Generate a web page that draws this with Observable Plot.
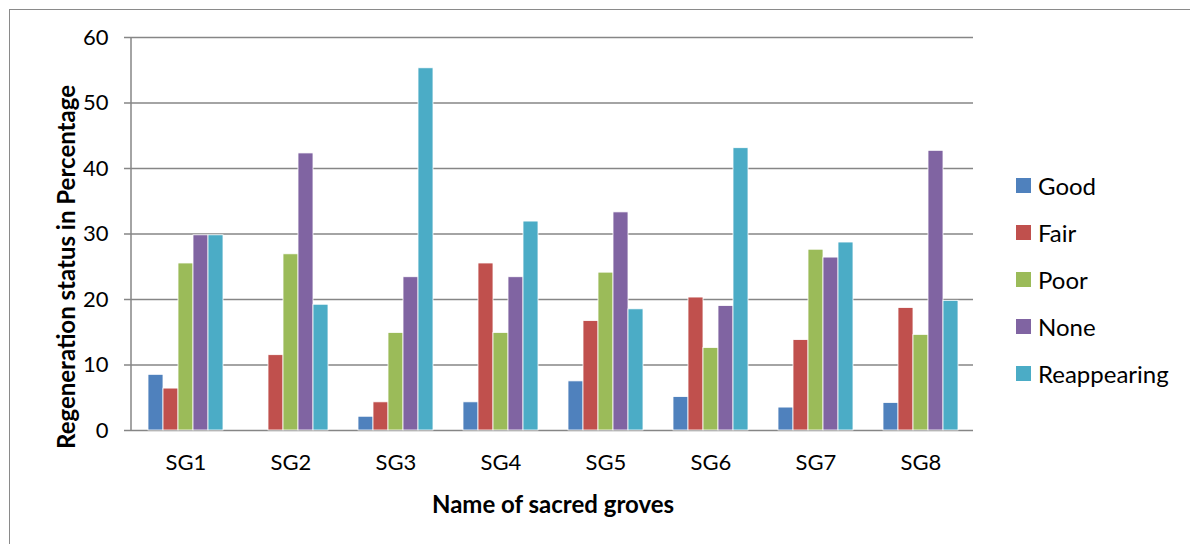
<!DOCTYPE html>
<html>
<head>
<meta charset="utf-8">
<script src="https://cdn.jsdelivr.net/npm/d3@7"></script>
<script src="https://cdn.jsdelivr.net/npm/@observablehq/plot@0.6"></script>
<style>
  html, body { margin: 0; padding: 0; background: #fff; }
  #wrap { position: relative; width: 1190px; height: 544px; overflow: hidden; font-family: Lato, "Open Sans", sans-serif; }
  #border { position: absolute; left: 9px; top: 9px; right: -5px; bottom: -5px; border-top: 1.5px solid #8a8a8a; border-left: 1.5px solid #8a8a8a; pointer-events: none; }
  #chart { position: absolute; left: 0; top: 0; }
  .ytitle { position: absolute; left: 65px; top: 267px; transform: translate(-50%, -50%) rotate(-90deg); white-space: nowrap; font-weight: bold; font-size: 24px; color: #000; }
  .xtitle { position: absolute; left: 553px; top: 503px; transform: translate(-50%, -50%); white-space: nowrap; font-weight: bold; font-size: 24px; color: #000; }
  #legend { position: absolute; left: 1016px; top: 162px; }
  .row { display: flex; align-items: center; height: 47px; font-size: 24px; color: #000; }
  .sw { width: 15px; height: 15px; margin-right: 7px; }
</style>
</head>
<body>
<div id="wrap">
  <div id="chart"></div>
  <div class="ytitle">Regeneration status in Percentage</div>
  <div class="xtitle">Name of sacred groves</div>
  <div id="legend"></div>
  <div id="border"></div>
</div>
<script>
const groves = ["SG1", "SG2", "SG3", "SG4", "SG5", "SG6", "SG7", "SG8"];
const categories = ["Good", "Fair", "Poor", "None", "Reappearing"];
const colors = ["#4F81BD", "#C0504D", "#9BBB59", "#8064A2", "#4BACC6"];
const good        = [8.5, 0,    2.1,  4.3,  7.5,  5.1,  3.5,  4.2];
const fair        = [6.4, 11.5, 4.3,  25.5, 16.7, 20.3, 13.8, 18.7];
const poor        = [25.5, 26.9, 14.9, 14.9, 24.1, 12.6, 27.6, 14.6];
const none        = [29.8, 42.3, 23.4, 23.4, 33.3, 19.0, 26.4, 42.7];
const reappearing = [29.8, 19.2, 55.3, 31.9, 18.5, 43.1, 28.7, 19.8];
const yTicks = [0, 10, 20, 30, 40, 50, 60];

const series = [good, fair, poor, none, reappearing];
const data = [];
groves.forEach((g, i) => {
  categories.forEach((c, j) => data.push({grove: g, category: c, value: series[j][i]}));
});

const W = 1190, H = 544;
const mL = 131, mR = 215, mT = 37, mB = 114;

const plot = Plot.plot({
  width: W,
  height: H,
  marginLeft: mL,
  marginRight: mR,
  marginTop: mT,
  marginBottom: mB,
  style: {fontFamily: "Lato, 'Open Sans', sans-serif", background: "transparent", color: "#000"},
  fx: {domain: groves, padding: 0, label: null},
  x: {domain: categories, paddingInner: 0, paddingOuter: 0.8, axis: null},
  y: {domain: [0, 60], label: null},
  color: {domain: categories, range: colors},
  marks: [
    Plot.ruleY(yTicks, {stroke: "#868686", strokeWidth: 1.5}),
    Plot.barY(data, {fx: "grove", x: "category", y: "value", fill: "category", stroke: "#fff", strokeWidth: 0.8}),
    Plot.axisY({ticks: yTicks, tickSize: 9, tickPadding: 16, fontSize: 22, stroke: "#868686", strokeWidth: 1.5, fill: "#000", label: null}),
    Plot.axisFx({anchor: "bottom", tickSize: 0, tickPadding: 24, fontSize: 22, fill: "#000", label: null})
  ]
});

document.getElementById("chart").appendChild(plot);

// left axis line along the plot frame, using the y scale
const ys = plot.scale("y");
d3.select(plot).append("line")
  .attr("x1", mL).attr("x2", mL)
  .attr("y1", ys.apply(0)).attr("y2", ys.apply(60))
  .attr("stroke", "#868686").attr("stroke-width", 1.5);

const legend = d3.select("#legend");
categories.forEach((c, i) => {
  const row = legend.append("div").attr("class", "row");
  row.append("div").attr("class", "sw").style("background", colors[i]);
  row.append("span").text(c);
});
</script>
</body>
</html>
